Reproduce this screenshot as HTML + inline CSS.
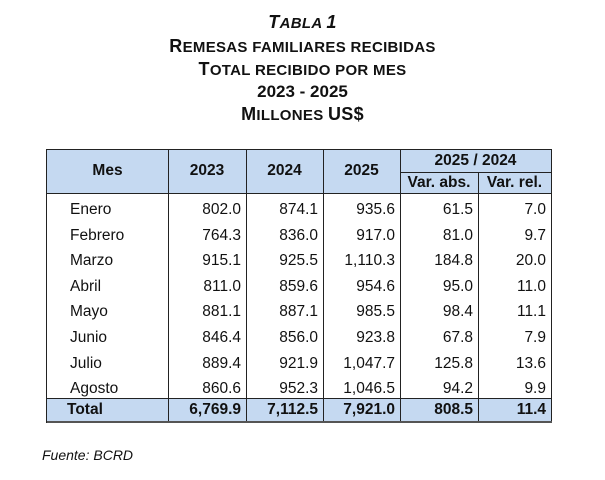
<!DOCTYPE html>
<html><head><style>
body{margin:0;width:605px;height:480px;background:#fff;font-family:"Liberation Sans",Arial,sans-serif;position:relative;overflow:hidden}
.t{position:absolute;left:0;width:605px;text-align:center;font-weight:bold;color:#111;font-size:15px;line-height:18px;text-transform:uppercase;letter-spacing:0.3px}
.t b{font-size:18px}
.c{position:absolute;font-size:15.5px;color:#111;line-height:20px}
.r{text-align:right}
.v{position:absolute;background:#222;width:1px}
.h{position:absolute;background:#222;height:1px}
</style></head><body>
<div class="t" style="top:13px;font-style:italic"><b>T</b>abla <b>1</b></div>
<div class="t" style="top:37px"><b>R</b>emesas familiares recibidas</div>
<div class="t" style="top:60px"><b>T</b>otal recibido por mes</div>
<div class="t" style="top:83px;font-size:17px;letter-spacing:0">2023 - 2025</div>
<div class="t" style="top:105px"><b>M</b>illones <b>US$</b></div>

<div style="position:absolute;left:47px;top:150px;width:504px;height:43px;background:#c5d9f1"></div>
<div style="position:absolute;left:47px;top:398px;width:504px;height:23px;background:#c5d9f1"></div>
<div style="position:absolute;left:46px;top:149px;width:504px;height:272px;border:1px solid #222"></div>
<div class="h" style="left:47px;top:421px;width:505px;height:2px;background:#555"></div>
<div class="h" style="left:47px;top:193px;width:504px"></div>
<div class="h" style="left:47px;top:398px;width:504px"></div>
<div class="h" style="left:400px;top:172px;width:151px"></div>
<div class="v" style="left:168px;top:150px;height:271px"></div>
<div class="v" style="left:246px;top:150px;height:271px"></div>
<div class="v" style="left:323px;top:150px;height:271px"></div>
<div class="v" style="left:400px;top:150px;height:271px"></div>
<div class="v" style="left:478px;top:172px;height:249px"></div>

<div class="c" style="left:47px;width:121px;top:161px;text-align:center;font-weight:bold">Mes</div>
<div class="c" style="left:168px;width:78px;top:161px;text-align:center;font-weight:bold">2023</div>
<div class="c" style="left:246px;width:77px;top:161px;text-align:center;font-weight:bold">2024</div>
<div class="c" style="left:323px;width:77px;top:161px;text-align:center;font-weight:bold">2025</div>
<div class="c" style="left:400px;width:151px;top:151px;text-align:center;font-weight:bold">2025 / 2024</div>
<div class="c" style="left:400px;width:78px;top:173px;text-align:center;font-weight:bold">Var. abs.</div>
<div class="c" style="left:478px;width:73px;top:173px;text-align:center;font-weight:bold">Var. rel.</div>

<div id="rows"></div>
<script>
var d=[["Enero","802.0","874.1","935.6","61.5","7.0"],["Febrero","764.3","836.0","917.0","81.0","9.7"],["Marzo","915.1","925.5","1,110.3","184.8","20.0"],["Abril","811.0","859.6","954.6","95.0","11.0"],["Mayo","881.1","887.1","985.5","98.4","11.1"],["Junio","846.4","856.0","923.8","67.8","7.9"],["Julio","889.4","921.9","1,047.7","125.8","13.6"],["Agosto","860.6","952.3","1,046.5","94.2","9.9"],["Total","6,769.9","7,112.5","7,921.0","808.5","11.4"]];
var R=[246,323,400,478,551],h="";
d.forEach(function(r,i){var y=i<8?200+i*25.6:400;var b=i==8?"font-weight:bold;":"";
h+='<div class="c" style="'+b+'left:'+(i==8?67:70)+'px;top:'+y+'px">'+r[0]+'</div>';
for(var j=1;j<6;j++)h+='<div class="c r" style="'+b+'left:'+(R[j-1]-100)+'px;width:95px;top:'+y+'px">'+r[j]+'</div>';});
document.getElementById("rows").innerHTML=h;
</script>
<div class="c" style="left:42px;top:445px;font-style:italic;font-size:14px">Fuente: BCRD</div>
</body></html>
